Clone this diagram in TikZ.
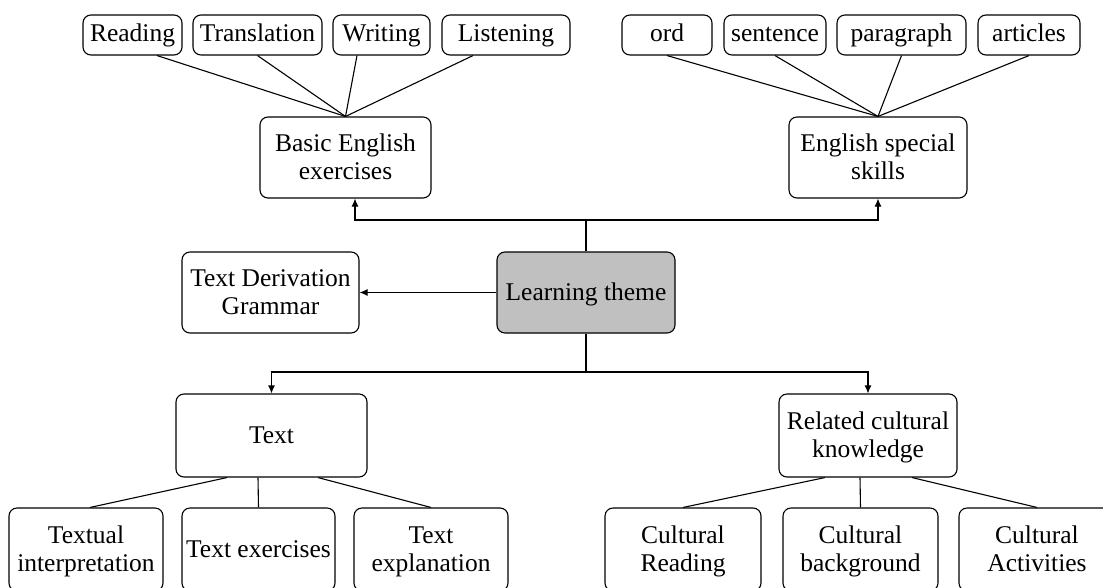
\documentclass[tikz,border=0pt]{standalone}
\usepackage{fontspec}
\setmainfont{Liberation Serif}
\usetikzlibrary{arrows.meta}

\tikzset{
  box/.style={draw, rounded corners=8pt, line width=1.1pt, align=center, inner sep=0pt,
    font=\fontsize{25.5}{28}\selectfont},
  leaf/.style={box, minimum height=40pt, text height=20pt, text depth=6.5pt},
  mid/.style={box, minimum height=81pt, text depth=1pt},
  arr/.style={-{Latex[length=8pt,width=7pt]}},
}

\begin{document}
\begin{tikzpicture}[x=1pt,y=1pt,yscale=-1,line width=1.1pt]
\useasboundingbox (0,0) rectangle (1103,587);
\clip (0,0) rectangle (1103,587);

% Text Node
\node [leaf, minimum width=99pt] (reading) at (132.5,35) {Reading};
\node [leaf, minimum width=129pt] (translation) at (257.5,35) {Translation};
\node [leaf, minimum width=97pt] (writing) at (381.5,35) {Writing};
\node [leaf, minimum width=128pt] (listening) at (506,35) {Listening};
\node [leaf, minimum width=90pt] (ord) at (667,35) {ord};
\node [leaf, minimum width=102pt] (sentence) at (775,35) {sentence};
\node [leaf, minimum width=129pt] (paragraph) at (901.5,35) {paragraph};
\node [leaf, minimum width=102pt] (articles) at (1029,35) {articles};

% Text Node
\node [mid, minimum width=171pt] (basic) at (345.5,157.5) {Basic English\\exercises};
\node [mid, minimum width=178pt] (special) at (878,157.5) {English special\\skills};
\node [mid, minimum width=177pt] (grammar) at (270.5,292.5) {Text Derivation\\Grammar};
\node [mid, minimum width=178pt, fill={rgb,255:red,192;green,192;blue,192}] (theme) at (586,292.5) {Learning theme};
\node [mid, minimum width=191pt, minimum height=83pt] (text) at (271.5,435.5) {Text};
\node [mid, minimum width=178pt, minimum height=83pt] (cultural) at (868,435.5) {Related cultural\\knowledge};

% Text Node
\node [mid, minimum width=154pt, minimum height=83pt] (interp) at (86,549.5) {Textual\\interpretation};
\node [mid, minimum width=153pt, minimum height=83pt] (exer) at (258.5,549.5) {Text exercises};
\node [mid, minimum width=154pt, minimum height=83pt] (expl) at (431,549.5) {Text\\explanation};
\node [mid, minimum width=156pt, minimum height=83pt] (creading) at (683,549.5) {Cultural\\Reading};
\node [mid, minimum width=155pt, minimum height=83pt] (cbackground) at (860.5,549.5) {Cultural\\background};
\node [mid, minimum width=156pt, minimum height=83pt] (cactivities) at (1037,549.5) {Cultural\\Activities};

%Straight Lines
\draw (basic.north) -- ([xshift=24.5pt]reading.south);
\draw (basic.north) -- (translation.south);
\draw (basic.north) -- ([xshift=-24.5pt]writing.south);
\draw (basic.north) -- ([xshift=-33pt]listening.south);
\draw (special.north) -- (ord.south);
\draw (special.north) -- (sentence.south);
\draw (special.north) -- (paragraph.south);
\draw (special.north) -- (articles.south);

%Straight Lines
\coordinate (upjoin) at (586,220);
\coordinate (downjoin) at (586,372);
\draw [arr] (theme.north) -- (upjoin) -| ([xshift=9.5pt]basic.south);
\draw [arr] (upjoin) -| (special.south);
\draw [arr] (theme.west) -- (grammar.east);
\draw [arr] (theme.south) -- (downjoin) -| (text.north);
\draw [arr] (downjoin) -| (cultural.north);

%Straight Lines
\draw ([xshift=-44.5pt]text.south) -- ([xshift=4pt]interp.north);
\draw ([xshift=-13.5pt]text.south) -- (exer.north);
\draw ([xshift=46.5pt]text.south) -- (expl.north);
\draw ([xshift=-43pt]cultural.south) -- (creading.north);
\draw ([xshift=-8pt]cultural.south) -- (cbackground.north);
\draw ([xshift=44pt]cultural.south) -- (cactivities.north);
\end{tikzpicture}
\end{document}
